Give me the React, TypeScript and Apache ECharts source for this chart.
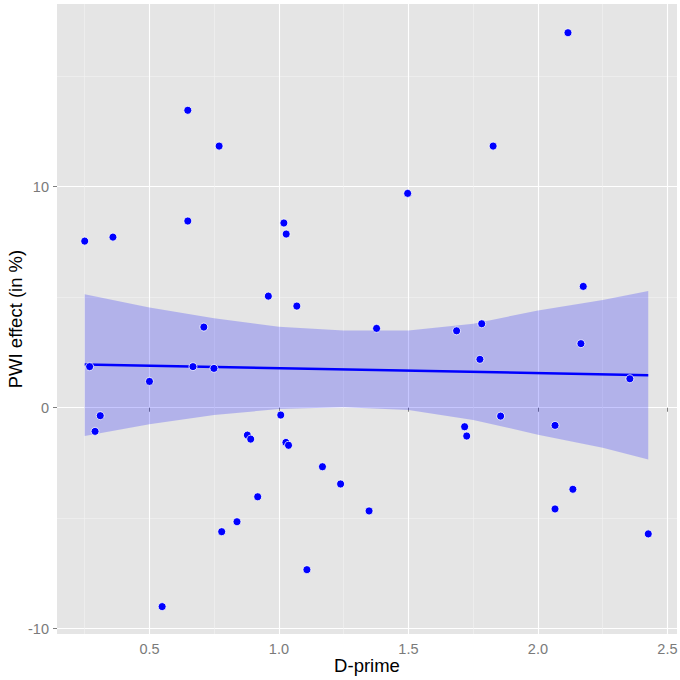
import React, { useEffect, useRef } from "react";
import * as echarts from "echarts";

const dPrime = [
  0.25, 0.269, 0.29, 0.31, 0.359, 0.5, 0.549, 0.648, 0.648, 0.668,
  0.71, 0.749, 0.769, 0.779, 0.838, 0.878, 0.891, 0.918, 0.959, 1.007,
  1.019, 1.027, 1.028, 1.037, 1.069, 1.108, 1.168, 1.238, 1.348, 1.377,
  1.497, 1.686, 1.717, 1.725, 1.776, 1.783, 1.827, 1.856, 2.066, 2.066,
  2.116, 2.135, 2.166, 2.175, 2.355, 2.426,
];
const pwiEffect = [
  7.54, 1.86, -1.07, -0.36, 7.72, 1.19, -9.0, 13.46, 8.45, 1.86,
  3.65, 1.78, 11.84, -5.61, -5.16, -1.24, -1.42, -4.03, 5.05, -0.33,
  8.36, -1.57, 7.86, -1.7, 4.6, -7.33, -2.67, -3.45, -4.67, 3.59,
  9.7, 3.48, -0.86, -1.28, 2.19, 3.8, 11.84, -0.38, -0.8, -4.58,
  16.97, -3.69, 2.9, 5.49, 1.31, -5.71,
];

// fitted line end points
const fitX = [0.25, 2.426];
const fitY = [1.96, 1.47];

// confidence band
const bandX = [0.25, 0.5, 0.75, 1.0, 1.25, 1.5, 1.75, 2.0, 2.25, 2.426];
const bandUpper = [5.14, 4.54, 4.05, 3.66, 3.49, 3.5, 3.8, 4.4, 4.87, 5.28];
const bandLower = [-1.28, -0.75, -0.33, -0.06, 0.02, -0.1, -0.55, -1.22, -1.81, -2.34];

const xTicks = [0.5, 1.0, 1.5, 2.0, 2.5];
const yTicks = [-10, 0, 10];

const xTitle = "D-prime";
const yTitle = "PWI effect (in %)";

const X_MIN = 0.143;
const X_MAX = 2.537;
const Y_MIN = -10.24;
const Y_MAX = 18.27;

const FONT = '"Liberation Sans", Arial, Helvetica, sans-serif';

export default function App() {
  const ref = useRef<HTMLDivElement>(null);

  useEffect(() => {
    if (!ref.current) return;
    const chart = echarts.init(ref.current, null, { renderer: "svg" });

    const scatterData = dPrime.map((x, i) => [x, pwiEffect[i]]);
    const lineData = fitX.map((x, i) => [x, fitY[i]]);
    const bandData = bandX.map((x, i) => [x, bandLower[i], bandUpper[i]]);

    chart.setOption({
      animation: false,
      textStyle: { fontFamily: FONT },
      grid: {
        left: 57,
        right: 3,
        top: 4,
        bottom: 46,
        show: true,
        backgroundColor: "#E5E5E5",
        borderWidth: 0,
        containLabel: false,
        outerBoundsMode: "none",
      },
      graphic: [
        {
          type: "text",
          x: 367,
          y: 665,
          style: {
            text: xTitle,
            fill: "#000",
            font: `18.5px ${FONT}`,
            align: "center",
            verticalAlign: "middle",
          },
        },
        {
          type: "text",
          x: 15,
          y: 319,
          rotation: Math.PI / 2,
          style: {
            text: yTitle,
            fill: "#000",
            font: `18.5px ${FONT}`,
            align: "center",
            verticalAlign: "middle",
          },
        },
      ],
      xAxis: {
        type: "value",
        min: X_MIN,
        max: X_MAX,
        splitNumber: 5,
        axisLine: { show: false },
        axisTick: {
          show: true,
          customValues: xTicks,
          length: 4,
          lineStyle: { color: "#7F7F7F", width: 1 },
        },
        axisLabel: {
          customValues: xTicks,
          color: "#7A7A7A",
          fontSize: 14.5,
          margin: 7,
          fontFamily: FONT,
          formatter: (v: number) => v.toFixed(1),
        },
        splitLine: { show: true, lineStyle: { color: "#FFFFFF", width: 1.1 } },
        minorTick: { show: false, splitNumber: 2 },
        minorSplitLine: { show: true, lineStyle: { color: "#F2F2F2", width: 0.6 } },
      },
      yAxis: {
        type: "value",
        min: Y_MIN,
        max: Y_MAX,
        splitNumber: 3,
        axisLine: { show: false },
        axisTick: {
          show: true,
          customValues: yTicks,
          length: 4,
          lineStyle: { color: "#7F7F7F", width: 1 },
        },
        axisLabel: {
          customValues: yTicks,
          color: "#7A7A7A",
          fontSize: 14.5,
          margin: 8,
          fontFamily: FONT,
        },
        splitLine: { show: true, lineStyle: { color: "#FFFFFF", width: 1.1 } },
        minorTick: { show: false, splitNumber: 2 },
        minorSplitLine: { show: true, lineStyle: { color: "#F2F2F2", width: 0.6 } },
      },
      series: [
        {
          type: "custom",
          data: bandData,
          encode: { x: 0, y: [1, 2] },
          silent: true,
          z: 1,
          renderItem: (params: any, api: any) => {
            if (params.dataIndex !== 0) return null;
            const pts: number[][] = [];
            for (let i = 0; i < bandX.length; i++) pts.push(api.coord([bandX[i], bandUpper[i]]));
            for (let i = bandX.length - 1; i >= 0; i--) pts.push(api.coord([bandX[i], bandLower[i]]));
            return {
              type: "polygon",
              shape: { points: pts },
              style: { fill: "rgba(0,0,255,0.22)", stroke: "none" },
            };
          },
        },
        {
          type: "line",
          data: lineData,
          showSymbol: false,
          silent: true,
          z: 2,
          lineStyle: { color: "#0000FF", width: 2.5 },
        },
        {
          type: "scatter",
          data: scatterData,
          symbolSize: 8,
          z: 3,
          itemStyle: { color: "#0000FF", borderColor: "#FFFFFF", borderWidth: 0.8, opacity: 1 },
        },
      ],
    });

    return () => chart.dispose();
  }, []);

  return (
    <div
      ref={ref}
      style={{ position: "absolute", left: 0, top: 0, width: 680, height: 680, background: "#fff" }}
    />
  );
}
